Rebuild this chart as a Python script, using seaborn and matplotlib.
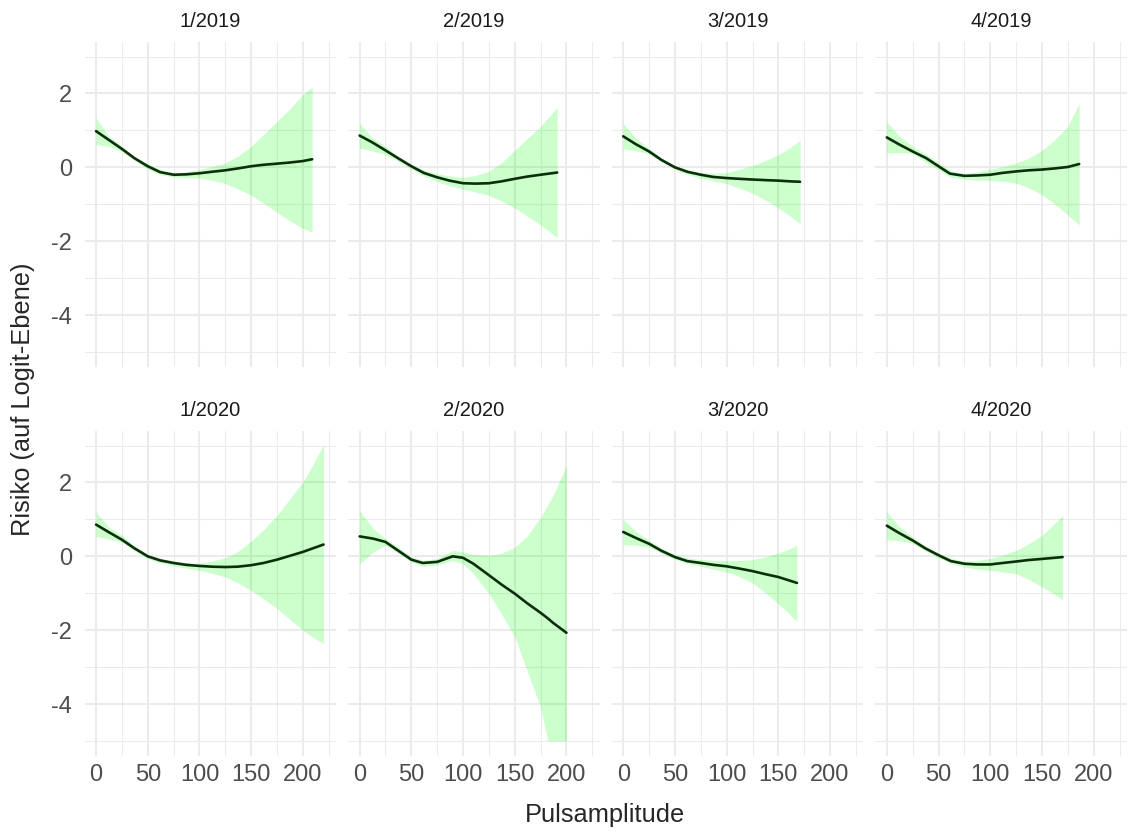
import numpy as np
import pandas as pd
import matplotlib.pyplot as plt
import seaborn as sns

# facet labels (quarter/year)
panels = ["1/2019", "2/2019", "3/2019", "4/2019",
          "1/2020", "2/2020", "3/2020", "4/2020"]

# smooth fit + confidence band
x_1_2019 = [0, 12, 25, 37, 50, 62, 75, 87, 100, 112, 125, 137, 150, 162, 175, 187, 200, 209]
fit_1_2019 = [0.98, 0.75, 0.50, 0.25, 0.03, -0.13, -0.20, -0.19, -0.16, -0.12, -0.08, -0.03,
              0.03, 0.07, 0.10, 0.13, 0.17, 0.22]
hi_1_2019 = [1.34, 0.85, 0.57, 0.30, 0.10, -0.06, -0.14, -0.12, -0.06, 0.02, 0.12, 0.30,
             0.57, 0.89, 1.25, 1.57, 1.97, 2.18]
lo_1_2019 = [0.62, 0.57, 0.43, 0.20, -0.05, -0.20, -0.26, -0.28, -0.29, -0.35, -0.44, -0.58,
             -0.76, -0.97, -1.22, -1.44, -1.65, -1.76]

x_2_2019 = [0, 12, 25, 37, 50, 62, 75, 87, 100, 112, 125, 137, 150, 162, 175, 191]
fit_2_2019 = [0.86, 0.68, 0.46, 0.25, 0.03, -0.15, -0.27, -0.36, -0.43, -0.44, -0.43, -0.38,
              -0.31, -0.25, -0.20, -0.14]
hi_2_2019 = [1.19, 0.80, 0.57, 0.30, 0.07, -0.07, -0.17, -0.23, -0.27, -0.22, -0.11, 0.12,
             0.46, 0.78, 1.11, 1.63]
lo_2_2019 = [0.52, 0.45, 0.34, 0.17, -0.05, -0.23, -0.38, -0.50, -0.59, -0.67, -0.76, -0.91,
             -1.10, -1.32, -1.56, -1.90]

x_3_2019 = [0, 12, 25, 37, 50, 62, 75, 87, 100, 112, 125, 137, 150, 162, 171]
fit_3_2019 = [0.84, 0.63, 0.43, 0.20, 0.00, -0.12, -0.20, -0.26, -0.29, -0.31, -0.33, -0.345,
              -0.36, -0.38, -0.39]
hi_3_2019 = [1.18, 0.80, 0.51, 0.26, 0.05, -0.07, -0.14, -0.16, -0.14, -0.06, 0.05, 0.18,
             0.34, 0.55, 0.73]
lo_3_2019 = [0.50, 0.45, 0.37, 0.15, -0.05, -0.19, -0.29, -0.37, -0.44, -0.56, -0.70, -0.88,
             -1.10, -1.33, -1.53]

x_4_2019 = [0, 12, 25, 38, 50, 61, 75, 87, 100, 112, 125, 137, 150, 162, 175, 186]
fit_4_2019 = [0.81, 0.62, 0.43, 0.25, 0.03, -0.17, -0.23, -0.22, -0.20, -0.15, -0.11, -0.08,
              -0.06, -0.03, 0.01, 0.09]
hi_4_2019 = [1.23, 0.85, 0.57, 0.35, 0.12, -0.08, -0.17, -0.12, -0.05, 0.02, 0.12, 0.25,
             0.46, 0.74, 1.11, 1.73]
lo_4_2019 = [0.39, 0.40, 0.38, 0.13, -0.06, -0.26, -0.32, -0.35, -0.35, -0.38, -0.43, -0.55,
             -0.74, -0.98, -1.29, -1.56]

x_1_2020 = [0, 12, 25, 37, 50, 62, 75, 87, 100, 112, 125, 137, 150, 162, 175, 187, 200, 210, 220]
fit_1_2020 = [0.86, 0.66, 0.45, 0.22, 0.00, -0.11, -0.18, -0.23, -0.26, -0.28, -0.29, -0.28,
              -0.24, -0.18, -0.09, 0.01, 0.12, 0.22, 0.32]
hi_1_2020 = [1.20, 0.80, 0.57, 0.28, 0.05, -0.05, -0.13, -0.17, -0.18, -0.13, -0.04, 0.13,
             0.41, 0.72, 1.11, 1.54, 2.01, 2.50, 3.02]
lo_1_2020 = [0.54, 0.47, 0.39, 0.15, -0.06, -0.18, -0.26, -0.32, -0.38, -0.46, -0.56, -0.72,
             -0.92, -1.15, -1.41, -1.70, -2.00, -2.20, -2.36]

x_2_2020 = [0, 13, 25, 37, 50, 61, 75, 90, 100, 110, 125, 137, 150, 162, 175, 182, 187, 200]
fit_2_2020 = [0.54, 0.48, 0.39, 0.16, -0.09, -0.18, -0.15, 0.00, -0.04, -0.20, -0.51, -0.76,
              -1.01, -1.27, -1.53, -1.68, -1.80, -2.07]
hi_2_2020 = [1.24, 0.75, 0.48, 0.25, -0.02, -0.11, -0.06, 0.16, 0.12, 0.05, 0.03, 0.08,
             0.25, 0.55, 1.06, 1.40, 1.65, 2.46]
lo_2_2020 = [-0.20, 0.12, 0.30, 0.09, -0.15, -0.27, -0.23, -0.11, -0.20, -0.47, -1.01, -1.55,
             -2.18, -3.10, -4.10, -5.00, -5.00, -5.00]

x_3_2020 = [0, 12, 25, 37, 50, 62, 75, 87, 100, 112, 125, 137, 150, 159, 168]
fit_3_2020 = [0.66, 0.50, 0.34, 0.15, -0.02, -0.13, -0.18, -0.23, -0.27, -0.33, -0.40, -0.48,
              -0.56, -0.64, -0.72]
hi_3_2020 = [1.00, 0.68, 0.43, 0.22, 0.05, -0.04, -0.09, -0.11, -0.11, -0.11, -0.09, -0.02,
             0.09, 0.18, 0.30]
lo_3_2020 = [0.32, 0.30, 0.25, 0.08, -0.08, -0.19, -0.27, -0.35, -0.42, -0.55, -0.72, -0.98,
             -1.28, -1.52, -1.77]

x_4_2020 = [0, 12, 25, 37, 50, 62, 75, 87, 100, 112, 125, 137, 150, 160, 170]
fit_4_2020 = [0.83, 0.63, 0.43, 0.22, 0.03, -0.13, -0.20, -0.22, -0.22, -0.18, -0.14, -0.10,
              -0.07, -0.045, -0.02]
hi_4_2020 = [1.20, 0.80, 0.52, 0.28, 0.09, -0.05, -0.13, -0.11, -0.06, 0.04, 0.16, 0.34,
             0.57, 0.83, 1.11]
lo_4_2020 = [0.45, 0.42, 0.36, 0.15, -0.04, -0.19, -0.29, -0.35, -0.38, -0.42, -0.47, -0.62,
             -0.83, -0.99, -1.17]

xs = [x_1_2019, x_2_2019, x_3_2019, x_4_2019, x_1_2020, x_2_2020, x_3_2020, x_4_2020]
fits = [fit_1_2019, fit_2_2019, fit_3_2019, fit_4_2019,
        fit_1_2020, fit_2_2020, fit_3_2020, fit_4_2020]
his = [hi_1_2019, hi_2_2019, hi_3_2019, hi_4_2019,
       hi_1_2020, hi_2_2020, hi_3_2020, hi_4_2020]
los = [lo_1_2019, lo_2_2019, lo_3_2019, lo_4_2019,
       lo_1_2020, lo_2_2020, lo_3_2020, lo_4_2020]

frames = []
for p, x, f, h, l in zip(panels, xs, fits, his, los):
    frames.append(pd.DataFrame({"panel": p, "x": x, "fit": f, "hi": h, "lo": l}))
df = pd.concat(frames, ignore_index=True)

sns.set_style("white")
plt.rcParams["font.family"] = ["Liberation Sans", "DejaVu Sans"]
plt.rcParams["axes.unicode_minus"] = False


def ribbon(data, **kws):
    ax = plt.gca()
    ax.fill_between(data["x"], data["lo"], data["hi"], color="#00ff00",
                    alpha=0.2, lw=0, zorder=2)


g = sns.FacetGrid(df, col="panel", col_wrap=4, col_order=panels,
                  sharex=True, sharey=True, height=3.3, aspect=0.77)
g.map_dataframe(ribbon)
g.map_dataframe(sns.lineplot, x="x", y="fit", color="#0b2e0b", lw=1.9, zorder=3)
g.set_titles(col_template="{col_name}", size=14.5, color="#1a1a1a", pad=11)
g.set_axis_labels("", "")

fig = g.figure
fig.set_size_inches(11.29, 8.36)
fig.subplots_adjust(left=0.075, right=0.998, top=0.95, bottom=0.096,
                    wspace=0.049, hspace=0.197)

for ax in g.axes.flat:
    ax.set_xlim(-11, 232)
    ax.set_ylim(-5.4, 3.4)
    ax.set_xticks([0, 50, 100, 150, 200])
    ax.set_xticks([25, 75, 125, 175, 225], minor=True)
    ax.set_yticks([-4, -2, 0, 2])
    ax.set_yticks([-5, -3, -1, 1, 3], minor=True)
    ax.grid(True, which="major", color="#ebebeb", lw=1.5, zorder=0)
    ax.grid(True, which="minor", color="#ebebeb", lw=0.75, zorder=0)
    ax.set_axisbelow(True)
    ax.tick_params(which="both", length=0, labelsize=17, labelcolor="#4d4d4d")
    ax.tick_params(axis="y", pad=9)
    ax.tick_params(axis="x", pad=6)
    for s in ax.spines.values():
        s.set_visible(False)

fig.text(0.536, 0.025, "Pulsamplitude", ha="center", va="center", fontsize=18.3)
fig.text(0.0205, 0.523, "Risiko (auf Logit-Ebene)", rotation=90,
         ha="center", va="center", fontsize=18.3)

plt.savefig("out.png", dpi=100)
